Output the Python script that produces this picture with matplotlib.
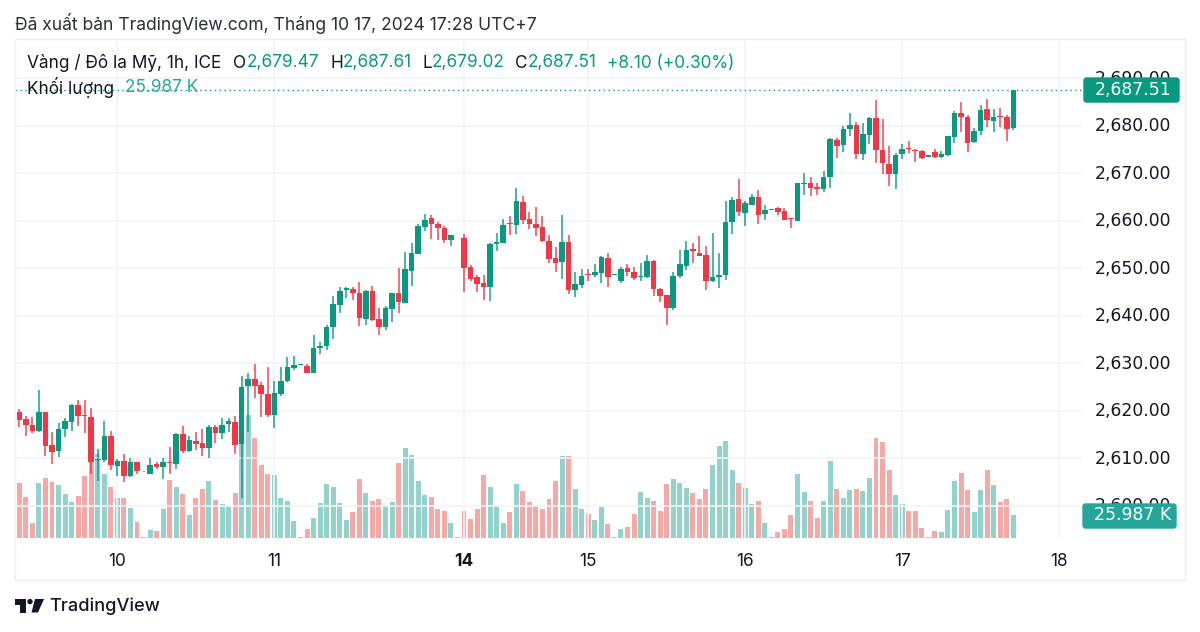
import matplotlib
matplotlib.use("Agg")
import matplotlib.pyplot as plt
from matplotlib.patches import Rectangle, FancyBboxPatch, Polygon, Circle
from matplotlib.transforms import ScaledTranslation

plt.rcParams['font.family'] = ['Inter', 'Noto Sans', 'DejaVu Sans']

# hourly candles, first one is the cut off bar at the left edge
opens = [2620.5,
    2619.8, 2618.3, 2617.0, 2615.8, 2619.7, 2612.7, 2611.5, 2616.2, 2617.7, 2621.1,
    2619.1, 2618.7, 2609.6, 2609.6, 2614.7, 2608.4, 2609.4, 2606.2, 2609.2, 2607.2,
    2606.6, 2608.8, 2608.2, 2609.2, 2608.8, 2615.0, 2611.5, 2613.7, 2613.1, 2612.1,
    2616.5, 2615.2, 2617.1, 2617.7, 2612.9, 2625.1, 2626.6, 2625.4, 2623.5, 2619.1,
    2623.5, 2626.2, 2628.9, 2629.65, 2629.4, 2628.0, 2633.1, 2633.7, 2637.6, 2642.3,
    2645.5, 2645.7, 2644.7, 2639.3, 2645.3, 2639.2, 2637.7, 2641.4, 2644.7, 2642.7,
    2649.4, 2652.9, 2658.7, 2660.5, 2659.4, 2658.5, 2655.9, 2657.1, 2656.3, 2650.3,
    2648.1, 2646.8, 2646.0, 2655.0, 2655.3, 2659.5, 2659.0, 2663.9, 2660.4, 2659.4,
    2658.6, 2655.8, 2652.1, 2651.2, 2655.5, 2645.5, 2646.5, 2648.7, 2648.6, 2649.0,
    2652.2, 2648.6, 2647.4, 2650.0, 2649.3, 2648.1, 2648.1, 2651.6, 2645.6, 2644.3,
    2641.7, 2648.3, 2650.5, 2654.0, 2653.3, 2652.8, 2647.4, 2648.1, 2648.6, 2659.8,
    2664.5, 2661.6, 2663.3, 2664.9, 2661.4, 2662.2, 2662.6, 2662.1, 2660.6, 2660.0,
    2667.7, 2667.9, 2667.0, 2666.6, 2669.3, 2677.0, 2675.9, 2679.3, 2680.1, 2674.1,
    2678.1, 2681.6, 2674.8, 2672.0, 2669.9, 2674.0, 2675.3, 2674.9, 2674.7, 2673.5,
    2674.4, 2673.4, 2673.8, 2677.7, 2682.7, 2681.8, 2676.5, 2678.9, 2683.5, 2680.9,
    2682.0, 2681.8, 2679.47]
highs = [2621.0,
    2620.3, 2618.8, 2618.6, 2624.4, 2619.8, 2615.6, 2617.4, 2618.4, 2621.4, 2622.3,
    2622.3, 2620.6, 2611.9, 2617.9, 2615.8, 2609.8, 2610.9, 2610.0, 2609.3, 2607.4,
    2610.1, 2609.2, 2610.1, 2612.3, 2615.4, 2616.8, 2614.6, 2615.5, 2616.2, 2617.0,
    2617.0, 2618.4, 2618.4, 2618.8, 2627.2, 2627.9, 2629.8, 2626.1, 2629.1, 2626.3,
    2629.1, 2631.3, 2631.5, 2629.9, 2629.9, 2636.0, 2634.4, 2638.0, 2644.1, 2646.1,
    2646.1, 2646.0, 2647.1, 2645.4, 2646.2, 2641.7, 2642.1, 2644.8, 2650.1, 2653.4,
    2655.2, 2659.2, 2661.4, 2661.3, 2659.7, 2658.9, 2657.0, 2657.3, 2657.1, 2650.6,
    2648.5, 2648.5, 2655.3, 2657.4, 2660.4, 2660.9, 2666.9, 2665.3, 2661.8, 2662.9,
    2660.9, 2656.9, 2654.5, 2661.2, 2657.0, 2649.1, 2649.8, 2649.9, 2650.9, 2652.6,
    2653.3, 2648.8, 2650.2, 2650.9, 2650.2, 2651.1, 2652.8, 2651.8, 2645.8, 2644.4,
    2649.1, 2653.9, 2655.8, 2655.4, 2656.8, 2654.6, 2657.4, 2653.2, 2664.1, 2665.0,
    2668.8, 2664.1, 2665.7, 2666.5, 2663.2, 2662.4, 2662.8, 2662.6, 2660.6, 2667.9,
    2670.0, 2669.1, 2668.0, 2670.5, 2677.5, 2677.5, 2680.0, 2682.7, 2680.8, 2680.5,
    2681.9, 2685.4, 2681.5, 2675.7, 2674.2, 2676.1, 2676.7, 2675.0, 2674.9, 2673.8,
    2675.0, 2674.7, 2677.8, 2683.0, 2684.9, 2682.2, 2679.6, 2684.3, 2685.7, 2683.6,
    2683.8, 2682.2, 2687.61]
lows = [2619.5,
    2616.5, 2614.7, 2615.4, 2615.5, 2610.4, 2608.8, 2610.2, 2614.4, 2615.8, 2616.7,
    2615.2, 2606.7, 2605.1, 2609.3, 2607.5, 2606.3, 2604.9, 2606.1, 2606.6, 2607.1,
    2606.6, 2607.8, 2605.6, 2606.6, 2607.8, 2611.1, 2611.3, 2611.8, 2610.4, 2610.1,
    2613.3, 2614.1, 2615.5, 2610.9, 2601.7, 2615.5, 2622.6, 2618.6, 2618.6, 2616.3,
    2623.1, 2626.0, 2628.6, 2629.65, 2627.9, 2627.9, 2632.0, 2632.7, 2635.1, 2640.5,
    2643.8, 2643.2, 2637.8, 2638.1, 2638.8, 2636.0, 2636.9, 2638.6, 2640.5, 2642.6,
    2646.2, 2652.9, 2657.8, 2656.2, 2656.0, 2655.2, 2654.6, 2657.1, 2645.0, 2647.3,
    2645.0, 2643.4, 2643.1, 2653.6, 2655.3, 2656.9, 2657.2, 2659.2, 2658.3, 2656.7,
    2655.6, 2651.0, 2649.2, 2647.7, 2644.5, 2643.9, 2645.8, 2647.2, 2648.1, 2646.8,
    2646.1, 2648.6, 2646.8, 2648.3, 2647.6, 2647.2, 2647.9, 2644.2, 2642.8, 2638.0,
    2641.3, 2647.9, 2649.7, 2651.1, 2652.5, 2645.5, 2647.0, 2645.9, 2647.6, 2657.1,
    2660.9, 2658.9, 2663.2, 2659.3, 2660.1, 2662.2, 2661.3, 2660.1, 2658.5, 2659.9,
    2665.4, 2665.1, 2665.4, 2666.0, 2666.9, 2673.1, 2674.4, 2677.9, 2673.0, 2672.8,
    2676.2, 2672.2, 2669.8, 2667.4, 2666.6, 2673.0, 2674.3, 2672.4, 2672.9, 2673.5,
    2673.1, 2673.2, 2673.7, 2676.4, 2678.7, 2674.4, 2676.4, 2678.0, 2679.8, 2678.7,
    2679.8, 2676.7, 2679.02]
closes = [2620.0,
    2618.1, 2616.9, 2615.8, 2619.7, 2612.6, 2611.4, 2616.1, 2617.8, 2621.1, 2618.8,
    2618.8, 2609.3, 2609.8, 2614.7, 2608.6, 2609.4, 2606.3, 2609.1, 2607.3, 2607.4,
    2608.6, 2608.2, 2609.2, 2609.0, 2615.0, 2611.5, 2613.9, 2613.0, 2612.2, 2616.6,
    2615.3, 2617.0, 2617.8, 2612.7, 2624.9, 2626.6, 2625.3, 2623.5, 2619.1, 2623.7,
    2626.3, 2629.1, 2629.6, 2629.9, 2628.0, 2633.1, 2633.7, 2637.7, 2642.4, 2645.3,
    2645.9, 2644.7, 2639.5, 2645.3, 2639.1, 2637.7, 2641.6, 2644.7, 2642.8, 2649.9,
    2653.1, 2658.8, 2660.2, 2659.4, 2658.4, 2655.9, 2656.9, 2657.3, 2650.1, 2647.8,
    2646.6, 2646.0, 2655.0, 2655.5, 2659.1, 2659.2, 2664.1, 2660.2, 2659.4, 2658.4,
    2655.7, 2652.0, 2651.1, 2655.5, 2645.5, 2646.7, 2648.3, 2648.5, 2649.1, 2652.4,
    2648.2, 2648.8, 2649.9, 2649.1, 2647.9, 2648.4, 2651.6, 2645.6, 2644.2, 2641.7,
    2648.3, 2650.9, 2653.9, 2653.7, 2652.6, 2647.4, 2648.1, 2648.5, 2659.8, 2664.4,
    2661.8, 2663.7, 2664.9, 2661.3, 2662.2, 2662.4, 2661.8, 2660.1, 2660.3, 2667.9,
    2668.0, 2666.9, 2666.7, 2669.2, 2677.2, 2675.8, 2679.4, 2680.1, 2674.1, 2678.2,
    2681.7, 2674.9, 2672.1, 2669.9, 2673.9, 2675.1, 2675.0, 2674.7, 2673.3, 2673.8,
    2673.4, 2674.0, 2677.8, 2682.7, 2681.8, 2676.4, 2678.9, 2683.3, 2681.1, 2681.8,
    2681.8, 2679.2, 2687.51]
volumes = [80.0,
    63.0, 47.0, 17.6, 63.0, 68.8, 64.2, 60.7, 50.4, 41.3, 48.1,
    71.4, 87.9, 96.3, 73.3, 58.8, 46.2, 46.2, 34.4, 18.3, 1.5,
    9.2, 8.4, 32.9, 66.9, 58.1, 50.4, 26.7, 45.5, 56.5, 64.9,
    43.9, 39.3, 37.1, 51.6, 108.9, 141.3, 114.6, 83.7, 73.3, 72.6,
    46.2, 42.0, 19.1, 1.1, 10.7, 23.3, 40.5, 62.3, 58.1, 40.5,
    21.0, 30.2, 67.6, 51.6, 42.8, 44.7, 37.1, 41.3, 86.0, 102.8,
    95.1, 65.7, 48.9, 47.0, 33.2, 31.3, 16.8, 1.1, 30.9, 21.8,
    33.2, 72.6, 58.1, 37.1, 17.6, 29.4, 61.5, 53.9, 41.3, 37.1,
    33.2, 44.7, 64.9, 94.4, 94.4, 56.5, 33.2, 27.9, 20.2, 35.5,
    16.0, 1.1, 10.7, 12.6, 27.9, 52.3, 45.5, 42.4, 31.3, 61.5,
    68.0, 63.0, 57.3, 51.6, 44.7, 56.5, 83.7, 105.8, 111.5, 78.3,
    63.0, 57.3, 39.0, 42.4, 16.8, 1.1, 7.3, 10.7, 26.7, 73.3,
    53.1, 42.8, 23.3, 42.8, 88.6, 56.5, 46.2, 55.0, 56.5, 53.9,
    69.1, 114.6, 110.4, 78.3, 49.7, 39.3, 30.9, 30.9, 11.5, 1.1,
    8.4, 7.3, 32.1, 64.9, 74.5, 55.4, 29.4, 55.0, 78.3, 60.7,
    41.3, 44.7, 25.987]
# flat green candle whose volume bar is still red
red_volume_bars = [20]

price_ticks = [2600, 2610, 2620, 2630, 2640, 2650, 2660, 2670, 2680, 2690]
day_labels = ["10", "11", "14", "15", "16", "17", "18"]
day_bars = [16, 40, 69, 88, 112, 136, 160]
bold_days = ["14"]

UP = "#089981"
DOWN = "#F23645"
VOL_UP = "#26a69a"
VOL_DOWN = "#ef5350"
GRID = "#f2f3f6"
DARK = "#131722"
W, H = 1200, 632

fig = plt.figure(figsize=(W / 100, H / 100), dpi=100, facecolor="white")

# pane spans x 15..1082, y 39..538 in pixels
ax = fig.add_axes([15 / W, 1 - 538 / H, (1082 - 15) / W, (538 - 39) / H])
ax.set_xlim(0.343, 163.5)
ax.set_ylim(2593.2, 2698.25)

# volume sits on its own scale over the same pane
vax = ax.twinx()
vax.set_xlim(ax.get_xlim())
vax.set_ylim(0, 572)
vax.axis("off")
ax.set_zorder(2)
vax.set_zorder(1)
ax.patch.set_visible(False)

for s in ax.spines.values():
    s.set_visible(False)
ax.yaxis.tick_right()
ax.set_yticks(price_ticks)
ax.set_yticklabels([f"{p:,.2f}" for p in price_ticks], family="DejaVu Sans")
ax.set_xticks(day_bars)
ax.set_xticklabels(day_labels)
ax.tick_params(axis="both", length=0, labelsize=12.4, labelcolor=DARK)
ax.tick_params(axis="y", pad=9.4)
ax.tick_params(axis="x", pad=11)
# price labels sit a little above their grid lines
for tick in ax.yaxis.get_major_ticks():
    tick.label2.set_transform(tick.label2.get_transform()
                              + ScaledTranslation(0, 1.6 / 100, fig.dpi_scale_trans))
for lab in ax.get_xticklabels():
    if lab.get_text() in bold_days:
        lab.set_fontweight("bold")
ax.grid(True, color=GRID, lw=1.2, zorder=0)
ax.set_axisbelow(True)

for i in range(len(opens)):
    x = i
    is_up = closes[i] >= opens[i] and i not in red_volume_bars
    vcol = VOL_UP if is_up else VOL_DOWN
    vax.bar(x, volumes[i], width=0.76, color=vcol, alpha=0.5, lw=0)

for i in range(len(opens)):
    x = i
    col = UP if closes[i] >= opens[i] else DOWN
    ax.vlines(x, lows[i], highs[i], color=col, lw=1.2, zorder=3, alpha=0.85)
    ax.bar(x, abs(closes[i] - opens[i]), bottom=min(opens[i], closes[i]),
           width=0.85, color=col, lw=0, zorder=4)

# last price line
ax.axhline(closes[-1], color=UP, lw=1, ls=(0, (1, 2.5)), zorder=2)

# everything outside the chart scales goes on a pixel overlay
ov = fig.add_axes([0, 0, 1, 1], zorder=5)
ov.set_xlim(0, W)
ov.set_ylim(H, 0)
ov.axis("off")
ov.patch.set_visible(False)

ov.add_patch(Rectangle((14.5, 39), 1170.5, 541, fill=False, ec="#eceef3", lw=1))

ov.text(15, 24, "Đã xuất bản TradingView.com, Tháng 10 17, 2024 17:28 UTC+7",
        fontsize=12.6, color="#2a2e39", va="center")

legend_y = 63
ov.text(27, legend_y, "Vàng / Đô la Mỹ, 1h, ICE", fontsize=12.4, color=DARK, va="center")
for label, lx, value, vx in [("O", 233, "2,679.47", 247),
                             ("H", 330, "2,687.61", 343),
                             ("L", 422, "2,679.02", 432),
                             ("C", 515, "2,687.51", 528)]:
    ov.text(lx, legend_y, label, fontsize=12.4, color=DARK, va="center")
    ov.text(vx, legend_y, value, fontsize=12.4, color=UP, va="center")
ov.text(607, legend_y, "+8.10 (+0.30%)", fontsize=12.4, color=UP, va="center")
ov.text(27, 88, "Khối lượng", fontsize=12.4, color=DARK, va="center")
ov.text(125, 88, "25.987 K", fontsize=12.4, color=VOL_UP, va="center")

# price and volume tags on the right
_, py = ax.transData.transform((0, closes[-1]))
tag_y = H - py
ov.add_patch(FancyBboxPatch((1084, tag_y - 12), 95, 24, boxstyle="round,pad=0,rounding_size=2.5",
                            fc=UP, ec=UP, lw=1))
ov.text(1133, tag_y - 0.5, f"{closes[-1]:,.2f}", fontsize=12.4, color="white", va="center", ha="center",
        family="DejaVu Sans")
ov.add_patch(FancyBboxPatch((1083, 504), 93, 24, boxstyle="round,pad=0,rounding_size=2.5",
                            fc="#26a69a", ec="#26a69a", lw=1))
ov.text(1133, 515.5, "25.987 K", fontsize=12.4, color="white", va="center", ha="center",
        family="DejaVu Sans")

# logo
ov.add_patch(Polygon([(14.5, 599), (26, 599), (26, 612.5), (20, 612.5), (20, 604.5), (14.5, 604.5)],
                     fc="#131722", ec="none"))
ov.add_patch(Circle((30, 601.6), 2.7, fc="#131722", ec="none"))
ov.add_patch(Polygon([(35, 599), (44, 599), (38, 612.5), (31.5, 612.5)], fc="#131722", ec="none"))
ov.text(49, 606, "TradingView", fontsize=13.1, color="#131722", va="center", fontweight="medium")

fig.savefig("out.png", dpi=100)
